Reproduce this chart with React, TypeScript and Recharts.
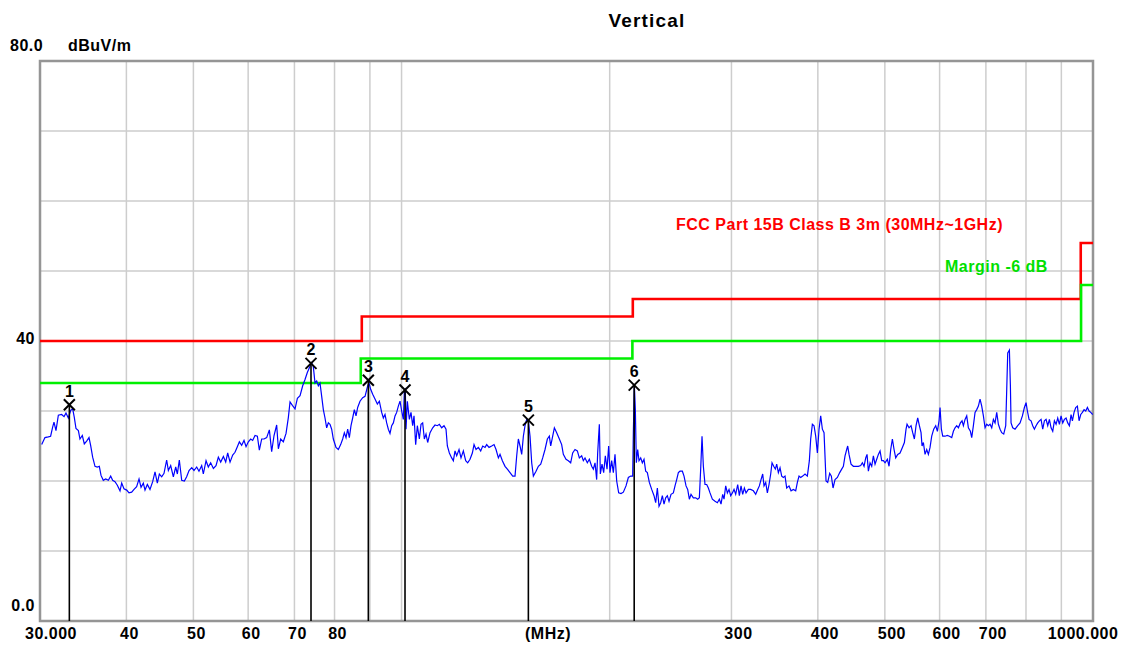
import React from 'react';
import {
  ComposedChart,
  Line,
  Scatter,
  XAxis,
  YAxis,
  CartesianGrid,
  ReferenceLine,
  ReferenceArea,
} from 'recharts';

// ---- measured trace, [frequency MHz, level dBuV/m] ----
const trace30to71: [number, number][] = [
  [30.17, 25.2], [30.5, 26.2], [30.84, 26.3], [31.08, 26.4], [31.29, 27.7], [31.43, 28.4], [31.64, 27.2], [31.89, 29.4], [32.24, 29.5], [32.5, 29.2],
  [32.71, 29.7], [32.97, 29.0], [33.23, 30.1], [33.45, 30.3], [33.63, 29.1], [33.82, 27.5], [34.09, 27.2], [34.27, 26.0], [34.54, 26.5], [34.77, 25.3],
  [35.04, 25.7], [35.32, 26.2], [35.51, 25.1], [35.75, 23.4], [36.03, 22.1], [36.31, 22.0], [36.55, 22.1], [36.76, 20.8], [37.04, 20.1], [37.33, 20.3],
  [37.67, 20.1], [37.96, 20.7], [38.21, 20.1], [38.51, 19.9], [38.81, 19.4], [39.16, 18.6], [39.38, 19.7], [39.68, 18.9], [40.04, 18.7], [40.35, 18.3],
  [40.71, 18.4], [41.03, 18.8], [41.39, 19.2], [41.72, 20.3], [42.0, 19.1], [42.32, 19.7], [42.56, 18.7], [42.89, 19.5], [43.27, 18.8], [43.66, 19.9],
  [44.0, 21.3], [44.34, 19.7], [44.64, 21.0], [44.99, 20.6], [45.34, 21.1], [45.74, 23.0], [46.0, 21.5], [46.36, 22.2], [46.77, 20.6], [47.14, 22.0],
  [47.4, 21.0], [47.71, 23.0], [48.09, 20.1], [48.52, 20.0], [48.89, 20.6], [49.28, 21.5], [49.72, 21.9], [50.1, 21.5], [50.55, 22.0], [50.94, 21.4],
  [51.4, 22.2], [51.68, 21.0], [52.15, 22.9], [52.55, 22.0], [52.96, 22.6], [53.44, 21.8], [53.91, 22.2], [54.33, 23.4], [54.76, 22.7], [55.25, 23.5],
  [55.68, 22.7], [56.05, 24.0], [56.49, 22.7], [56.99, 23.7], [57.43, 24.1], [57.88, 24.9], [58.27, 25.6], [58.72, 25.1], [59.18, 25.8], [59.58, 24.9],
  [60.04, 25.6], [60.51, 26.0], [60.91, 25.8], [61.39, 26.5], [61.87, 26.4], [62.28, 24.4], [62.77, 26.0], [63.26, 26.0], [63.82, 26.2], [64.39, 27.3],
  [64.89, 24.2], [65.4, 26.5], [65.98, 28.0], [66.35, 24.6], [66.87, 26.0], [67.46, 25.6], [68.07, 26.8], [68.6, 29.1], [68.98, 31.3], [69.52, 30.8],
  [70.14, 30.3], [70.69, 31.8], [71.32, 32.2],
];

const trace72to169: [number, number][] = [
  [71.95, 33.6], [72.51, 34.5], [73.07, 35.5], [73.72, 36.4], [74.13, 36.9], [74.55, 36.3], [74.96, 34.0], [75.38, 34.3], [75.8, 33.6], [76.22, 34.0],
  [76.65, 32.1], [77.07, 30.2], [77.5, 29.0], [77.93, 27.6], [78.37, 28.3], [78.8, 28.1], [79.24, 27.4], [79.68, 26.0], [80.39, 24.8], [81.02, 24.5],
  [81.65, 25.2], [82.2, 26.0], [82.66, 26.9], [83.12, 26.2], [83.58, 27.4], [84.04, 26.2], [84.51, 27.9], [84.98, 29.0], [85.46, 30.2], [85.93, 29.3],
  [86.41, 30.5], [87.08, 31.4], [87.86, 31.9], [88.55, 32.1], [89.34, 33.6], [89.73, 34.0], [90.23, 33.1], [90.84, 32.4], [91.54, 31.7], [92.26, 31.0],
  [92.87, 31.4], [93.6, 29.8], [94.12, 29.0], [94.64, 29.5], [95.17, 28.3], [95.7, 27.4], [96.23, 26.8], [96.77, 27.9], [97.31, 28.3], [97.85, 29.3],
  [98.39, 29.8], [98.94, 30.7], [99.49, 31.4], [100.05, 30.0], [100.6, 28.8], [100.94, 32.9], [101.27, 33.1], [101.5, 27.4], [101.95, 31.4], [102.63, 28.8],
  [103.2, 29.8], [103.78, 27.9], [104.24, 29.3], [104.82, 25.2], [105.4, 27.9], [106.11, 26.0], [106.7, 28.1], [107.29, 28.3], [107.89, 26.0], [108.49, 26.7],
  [109.09, 25.5], [109.95, 26.9], [110.93, 27.6], [111.79, 28.0], [112.66, 27.9], [113.42, 28.1], [114.3, 27.6], [115.19, 27.9], [115.96, 27.4], [116.48, 25.0],
  [117.26, 24.0], [118.17, 23.3], [118.83, 22.9], [119.49, 24.3], [120.16, 23.6], [121.1, 24.5], [121.9, 23.3], [122.85, 24.3], [123.81, 22.9], [124.64, 22.6],
  [125.61, 23.1], [126.59, 24.0], [127.3, 25.2], [128.15, 24.5], [129.15, 24.8], [130.16, 24.3], [131.03, 25.0], [132.05, 24.8], [132.78, 25.2], [133.82, 24.8],
  [135.01, 25.0], [136.07, 25.2], [136.98, 24.5], [138.05, 23.3], [138.81, 23.8], [139.9, 22.9], [141.14, 22.1], [142.24, 21.7], [143.51, 21.2], [144.79, 20.7],
  [145.92, 20.7], [146.74, 23.6], [147.55, 26.0], [148.37, 25.0], [149.2, 23.8], [150.03, 26.4], [150.86, 27.9], [151.7, 28.8], [152.55, 28.6], [153.4, 26.4],
  [154.25, 22.6], [155.11, 20.7], [156.49, 21.4], [157.71, 22.1], [158.95, 22.4], [160.0, 23.3], [161.25, 24.5], [162.51, 26.0], [163.59, 26.4], [164.33, 25.0],
  [165.42, 26.4], [166.35, 27.6], [167.64, 26.9], [169.14, 26.0],
];

const trace170to408: [number, number][] = [
  [170.44, 25.2], [171.39, 23.8], [172.92, 23.1], [174.27, 22.9], [175.63, 22.6], [176.8, 24.0], [178.18, 24.5], [179.57, 24.3], [180.77, 23.3], [182.18, 23.6],
  [183.19, 22.9], [184.22, 23.3], [185.65, 22.6], [186.89, 23.1], [188.35, 22.1], [189.4, 21.7], [190.46, 22.6], [191.51, 20.2], [192.15, 24.0], [193.22, 28.1],
  [193.87, 21.0], [194.95, 22.4], [196.03, 21.2], [197.12, 23.6], [198.22, 21.7], [199.32, 25.0], [200.21, 21.2], [201.33, 22.9], [202.45, 21.2], [203.57, 23.8],
  [204.71, 20.0], [206.07, 18.3], [207.68, 18.2], [209.3, 18.4], [211.17, 19.3], [212.82, 20.5], [214.48, 20.7], [215.91, 20.7], [216.39, 26.9], [217.11, 33.8],
  [217.84, 30.2], [218.56, 22.6], [219.54, 24.5], [220.51, 22.9], [221.74, 23.3], [222.97, 22.6], [224.22, 23.1], [225.46, 21.4], [226.71, 21.2], [228.23, 19.8],
  [230.02, 18.8], [231.81, 17.9], [233.1, 16.9], [234.4, 19.0], [235.7, 16.4], [237.01, 16.9], [238.33, 17.9], [239.66, 16.7], [240.99, 17.6], [242.33, 17.9],
  [243.68, 17.1], [245.31, 18.1], [247.22, 18.3], [248.6, 19.3], [249.99, 20.2], [251.38, 21.2], [252.78, 21.4], [254.75, 21.4], [256.17, 20.7], [257.88, 19.3],
  [259.31, 18.8], [260.76, 17.4], [262.21, 18.1], [264.25, 17.6], [266.32, 17.6], [268.09, 17.4], [269.59, 17.6], [270.78, 21.7], [271.99, 26.4], [273.2, 22.1],
  [274.72, 19.5], [276.25, 19.5], [277.79, 19.0], [279.33, 18.3], [281.52, 17.4], [284.03, 17.1], [286.24, 16.9], [288.16, 17.4], [289.76, 16.7], [291.37, 18.1],
  [292.67, 17.4], [294.3, 19.3], [295.94, 18.3], [297.58, 18.8], [299.24, 17.9], [300.91, 18.3], [302.58, 18.8], [304.26, 18.1], [306.3, 19.5], [308.0, 17.9],
  [309.72, 19.3], [311.44, 18.1], [313.18, 19.0], [314.92, 18.3], [317.38, 18.8], [319.85, 18.8], [322.71, 18.6], [325.22, 18.1], [327.4, 18.8], [329.22, 19.3],
  [331.05, 20.2], [332.89, 21.0], [334.37, 19.3], [336.24, 19.8], [338.11, 18.3], [339.99, 19.5], [341.88, 21.0], [343.4, 22.6], [345.31, 22.1], [347.23, 21.7],
  [348.78, 22.4], [350.72, 21.2], [352.68, 21.9], [354.64, 20.7], [356.61, 20.5], [358.6, 20.7], [360.6, 19.0], [363.41, 19.3], [365.84, 18.6], [368.7, 18.8],
  [371.57, 18.6], [373.63, 19.8], [375.71, 20.7], [377.81, 20.5], [380.32, 20.7], [383.29, 21.0], [386.28, 20.7], [388.86, 22.9], [390.59, 26.0], [392.78, 28.1],
  [394.97, 27.9], [397.16, 26.4], [399.37, 24.0], [401.59, 27.4], [403.83, 29.3], [406.08, 27.4], [408.34, 26.9],
];

const trace411to1000: [number, number][] = [
  [411.07, 20.0], [413.35, 19.8], [416.12, 21.1], [418.43, 20.7], [420.76, 19.0], [423.57, 20.2], [426.88, 20.5], [430.21, 21.2], [433.08, 21.7], [435.5, 22.1],
  [437.91, 23.6], [440.36, 24.5], [441.82, 25.0], [443.79, 23.8], [446.76, 22.4], [450.24, 22.1], [453.75, 22.1], [457.8, 22.1], [461.37, 22.2], [463.94, 22.6],
  [466.52, 22.1], [469.12, 23.3], [471.21, 23.8], [473.31, 21.4], [475.94, 22.6], [478.59, 22.1], [481.25, 23.6], [483.93, 22.4], [486.63, 23.1], [489.34, 23.8],
  [492.06, 24.3], [494.8, 22.9], [497.55, 22.9], [500.32, 22.6], [504.23, 23.1], [507.03, 22.1], [509.86, 24.5], [512.7, 26.0], [515.55, 24.5], [518.42, 23.3],
  [521.88, 23.8], [525.95, 24.0], [530.06, 24.8], [533.6, 25.5], [536.56, 27.4], [538.35, 28.1], [541.96, 27.6], [545.57, 27.9], [548.6, 26.9], [551.66, 26.0],
  [554.73, 27.9], [557.82, 29.0], [560.92, 27.9], [564.04, 26.9], [565.92, 25.0], [568.45, 25.5], [571.61, 23.8], [574.8, 24.5], [578.0, 23.8], [581.21, 24.8],
  [584.45, 26.4], [588.35, 27.4], [592.29, 27.9], [595.58, 27.1], [598.9, 28.6], [600.89, 30.5], [603.57, 27.4], [606.26, 26.4], [610.99, 26.4], [615.75, 26.5],
  [619.87, 26.4], [624.71, 26.2], [628.18, 27.1], [631.68, 27.6], [635.19, 27.9], [638.73, 27.6], [643.0, 28.3], [646.58, 28.6], [649.45, 27.9], [653.07, 28.8],
  [656.7, 29.3], [660.35, 27.6], [664.77, 27.1], [667.73, 26.2], [671.45, 27.9], [675.18, 29.8], [678.95, 30.2], [682.72, 30.7], [686.52, 31.7], [690.34, 30.7],
  [694.19, 29.3], [698.05, 27.6], [701.94, 28.1], [705.84, 27.9], [709.77, 28.1], [713.73, 27.6], [717.7, 28.8], [721.69, 28.3], [725.71, 29.8], [729.75, 28.1],
  [733.8, 27.4], [737.89, 26.9], [742.83, 26.7], [747.79, 27.9], [750.31, 33.1], [752.79, 38.3], [756.99, 38.7], [759.51, 33.6], [761.2, 28.3], [765.43, 27.6],
  [771.4, 27.4], [778.28, 27.9], [784.35, 28.3], [790.47, 29.3], [795.76, 30.5], [800.19, 31.2], [803.74, 30.0], [808.22, 28.8], [813.62, 28.6], [818.15, 27.9],
  [822.7, 27.4], [827.28, 27.9], [831.89, 28.3], [836.52, 28.6], [841.18, 28.8], [845.86, 27.4], [850.57, 28.6], [855.31, 28.8], [860.07, 27.9], [864.86, 28.8],
  [869.67, 27.6], [874.51, 27.1], [879.37, 28.6], [884.27, 28.1], [889.19, 29.0], [894.14, 28.1], [899.11, 29.3], [904.12, 28.3], [909.15, 28.8], [914.21, 29.0],
  [919.28, 28.3], [924.41, 27.9], [929.56, 29.5], [933.68, 28.6], [938.88, 29.8], [944.11, 30.5], [949.39, 30.7], [954.66, 28.6], [959.99, 29.5], [965.33, 29.8],
  [970.7, 30.2], [976.1, 30.0], [981.54, 30.5], [987.0, 30.0], [992.49, 29.8], [999.12, 29.5],
];

// ---- limit lines ----
const limitFreq = [30, 87.6, 87.6, 216, 216, 960, 960, 1000];
const limitLevel = [40, 40, 43.5, 43.5, 46, 46, 54, 54];
const marginFreq = [30, 87.3, 87.3, 215.7, 215.7, 961, 961, 1000];
const marginLevel = [34, 34, 37.5, 37.5, 40, 40, 48, 48];

// ---- peak markers ----
const markerNo = [1, 2, 3, 4, 5, 6];
const markerFreq = [33.08, 73.97, 89.53, 101.16, 152.55, 217.0];
const markerLevel = [30.9, 36.8, 34.4, 33.0, 28.7, 33.7];

// ---- axes ----
const xGridTicks = [30, 40, 50, 60, 70, 80, 90, 100, 200, 300, 400, 500, 600, 700, 800, 900, 1000];
const xTickText: Record<number, string> = {
  30: '30.000', 40: '40', 50: '50', 60: '60', 70: '70', 80: '80',
  300: '300', 400: '400', 500: '500', 600: '600', 700: '700', 1000: '1000.000',
};
const yGridTicks = [0, 10, 20, 30, 40, 50, 60, 70, 80];
const yTickText: Record<number, string> = { 0: '0.0', 40: '40', 80: '80.0' };

const yUnit = 'dBuV/m';
const xUnit = '(MHz)';
const titleText = 'Vertical';
const limitName = 'FCC Part 15B Class B 3m (30MHz~1GHz)';
const marginName = 'Margin -6 dB';

const FONT = '"Liberation Sans", Arial, Helvetica, sans-serif';

const traceData = [...trace30to71, ...trace72to169, ...trace170to408, ...trace411to1000].map(
  ([f, level]) => ({ f, level })
);
const limitData = limitFreq.map((f, i) => ({ f, level: limitLevel[i] }));
const marginData = marginFreq.map((f, i) => ({ f, level: marginLevel[i] }));
const markerData = markerNo.map((no, i) => ({ no, f: markerFreq[i], level: markerLevel[i] }));

const textStyle = {
  fontFamily: FONT,
  fontWeight: 'bold' as const,
  fontSize: 16,
  letterSpacing: 0.5,
};

const XTick = (props: any) => {
  const { x, y, payload } = props;
  const v = payload.value as number;
  const label = xTickText[v];
  if (!label) return <g />;
  let dx = v < 100 ? 3 : 7;
  if (v === 30) dx = 11;
  if (v === 1000) dx = -10;
  return (
    <text x={x + dx} y={y + 18} textAnchor="middle" fill="#000" style={textStyle}>
      {label}
    </text>
  );
};

const YTick = (props: any) => {
  const { x, y, payload } = props;
  const v = payload.value as number;
  const label = yTickText[v];
  if (!label) return <g />;
  if (v === 80) {
    return (
      <g>
        <text x={x - 30} y={y - 10} textAnchor="start" fill="#000" style={textStyle}>
          {label}
        </text>
        <text x={x + 28} y={y - 10} textAnchor="start" fill="#000" style={textStyle}>
          {yUnit}
        </text>
      </g>
    );
  }
  const dy = v === 0 ? -10 : 3;
  return (
    <text x={x - 5} y={y + dy} textAnchor="end" fill="#000" style={textStyle}>
      {label}
    </text>
  );
};

const MarkerShape = (props: any) => {
  const { cx, cy, payload } = props;
  const s = 5.5;
  return (
    <g>
      <line x1={cx - s} y1={cy - s} x2={cx + s} y2={cy + s} stroke="#000" strokeWidth={2} />
      <line x1={cx - s} y1={cy + s} x2={cx + s} y2={cy - s} stroke="#000" strokeWidth={2} />
      <text x={cx} y={cy - 8} textAnchor="middle" fill="#000" style={{ ...textStyle, fontSize: 16, letterSpacing: 0 }}>
        {payload.no}
      </text>
    </g>
  );
};

export default function App() {
  return (
    <div style={{ position: 'absolute', left: 0, top: 0, width: 1127, height: 646, background: '#fff' }}>
      <ComposedChart width={1127} height={646} margin={{ top: 61, right: 34, bottom: 0, left: 0 }}>
        <CartesianGrid stroke="#cdcdcd" strokeWidth={1.5} />
        <XAxis
          dataKey="f"
          type="number"
          scale="log"
          domain={[30, 1000]}
          allowDataOverflow
          ticks={xGridTicks}
          interval={0}
          tick={<XTick />}
          tickLine={false}
          tickSize={0}
          tickMargin={0}
          axisLine={false}
          height={25}
        />
        <YAxis
          type="number"
          domain={[0, 80]}
          allowDataOverflow
          ticks={yGridTicks}
          interval={0}
          tick={<YTick />}
          tickLine={false}
          tickSize={0}
          tickMargin={0}
          axisLine={false}
          width={40}
        />
        <ReferenceArea
          x1={30}
          x2={1000}
          y1={0}
          y2={80}
          fill="none"
          fillOpacity={0}
          stroke="#959595"
          strokeWidth={2.5}
          ifOverflow="visible"
        />
        <Line data={limitData} dataKey="level" type="linear" stroke="#ff0000" strokeWidth={2.6} dot={false} isAnimationActive={false} />
        <Line data={marginData} dataKey="level" type="linear" stroke="#00f000" strokeWidth={2.6} dot={false} isAnimationActive={false} />
        <Line data={traceData} dataKey="level" type="linear" stroke="#0000ff" strokeWidth={1.2} dot={false} isAnimationActive={false} />
        {markerData.map((m) => (
          <ReferenceLine
            key={m.no}
            segment={[{ x: m.f, y: 0 }, { x: m.f, y: m.level }]}
            stroke="#000"
            strokeWidth={1.6}
          />
        ))}
        <Scatter data={markerData} dataKey="level" shape={MarkerShape} isAnimationActive={false} />
      </ComposedChart>
      <svg
        width={1127}
        height={646}
        style={{ position: 'absolute', left: 0, top: 0, pointerEvents: 'none' }}
      >
        <text x={647} y={27} textAnchor="middle" fill="#000" style={{ ...textStyle, fontSize: 19, letterSpacing: 1.2 }}>
          {titleText}
        </text>
        <text x={676} y={229.5} fill="#ff0000" style={textStyle}>
          {limitName}
        </text>
        <text x={945} y={271.5} fill="#00e000" style={textStyle}>
          {marginName}
        </text>
        <text x={548} y={639} textAnchor="middle" fill="#000" style={textStyle}>
          {xUnit}
        </text>
      </svg>
    </div>
  );
}
